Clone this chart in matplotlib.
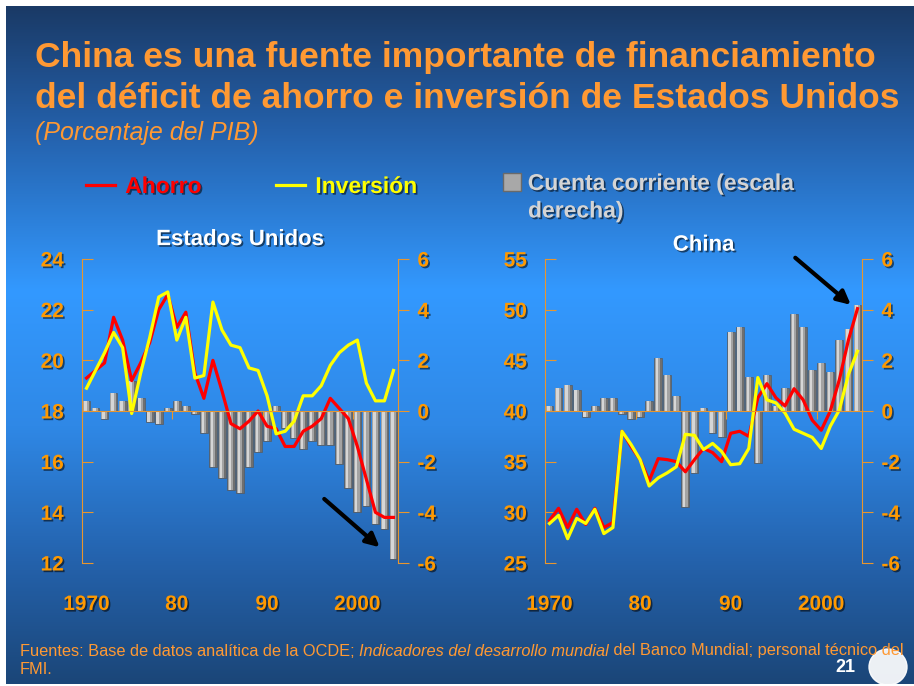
import numpy as np
import matplotlib.pyplot as plt
import matplotlib.patheffects as pe
from matplotlib.lines import Line2D
from matplotlib.patches import Ellipse
from matplotlib.colors import LinearSegmentedColormap

plt.rcParams['font.family'] = ['Liberation Sans', 'DejaVu Sans']
plt.rcParams['axes.unicode_minus'] = False

years = np.arange(1970, 2005)

# Estados Unidos (% del PIB)
us_ahorro = [19.3, 19.6, 19.9, 21.7, 20.8, 19.2, 19.9, 20.7, 22.0, 22.6,
             21.3, 21.9, 19.5, 18.5, 20.0, 18.8, 17.5, 17.3, 17.6, 18.0,
             17.4, 17.3, 16.6, 16.6, 17.2, 17.4, 17.7, 18.5, 18.1, 17.7,
             16.6, 15.3, 14.0, 13.8, 13.8]
us_inversion = [18.9, 19.6, 20.3, 21.1, 20.5, 17.9, 19.5, 20.9, 22.5, 22.7,
                20.8, 21.7, 19.3, 19.4, 22.3, 21.2, 20.6, 20.5, 19.7, 19.6,
                18.6, 17.1, 17.2, 17.6, 18.6, 18.6, 19.0, 19.8, 20.3, 20.6,
                20.8, 19.1, 18.4, 18.4, 19.6]
us_cuenta = [0.4, 0.1, -0.33, 0.7, 0.4, 1.2, 0.5, -0.42, -0.53, 0.1,
             0.4, 0.2, -0.1, -0.88, -2.23, -2.63, -3.1, -3.25, -2.23, -1.6,
             -1.2, 0.2, -0.68, -1.08, -1.5, -1.2, -1.35, -1.35, -2.1, -3.05,
             -4.0, -3.75, -4.45, -4.65, -5.85]

# China (% del PIB)
cn_ahorro = [29.2, 30.4, 28.5, 30.3, 28.8, 30.4, 28.5, 29.0, 38.0, 36.5,
             35.2, 33.1, 35.3, 35.2, 35.0, 34.0, 35.2, 36.3, 35.9, 35.0,
             37.8, 38.0, 37.5, 41.3, 42.7, 41.3, 40.5, 42.2, 41.1, 39.1,
             38.1, 40.0, 43.1, 47.0, 50.1]
cn_inversion = [28.9, 29.7, 27.4, 29.4, 28.9, 30.3, 27.9, 28.5, 38.0, 36.7,
                35.2, 32.6, 33.4, 33.9, 34.5, 37.7, 37.6, 36.2, 36.8, 36.0,
                34.7, 34.8, 36.3, 43.3, 41.1, 40.8, 39.8, 38.2, 37.8, 37.4,
                36.3, 38.5, 40.1, 43.6, 45.9]
cn_cuenta = [0.2, 0.9, 1.03, 0.83, -0.22, 0.2, 0.5, 0.5, -0.13, -0.33,
             -0.22, 0.4, 2.08, 1.42, 0.6, -3.8, -2.43, 0.1, -0.88, -1.01,
             3.1, 3.3, 1.34, -2.04, 1.41, 0.2, 0.9, 3.82, 3.3, 1.62,
             1.88, 1.54, 2.8, 3.23, 4.17]

year_ticks = [1970, 1980, 1990, 2000]
year_labels = ['1970', '80', '90', '2000']

ORANGE = '#ff9900'
SPINE = '#e8962e'
shadow = [pe.SimplePatchShadow(offset=(1.2, -1.2), shadow_rgbFace='black', alpha=0.55), pe.Normal()]

fig = plt.figure(figsize=(9.14, 6.86), dpi=100)
fig.patch.set_facecolor('white')

# slide background gradient
bg = fig.add_axes([6 / 914, 2 / 686, 1 - 6 / 914, 1 - 8 / 686], zorder=-10)
cmap = LinearSegmentedColormap.from_list('slide', [
    (0.0, '#1a3a66'), (0.18, '#2460aa'), (0.42, '#3399ff'),
    (0.62, '#2f88e6'), (0.82, '#2462ac'), (1.0, '#1b4678')])
bg.imshow(np.linspace(0, 1, 256).reshape(-1, 1), aspect='auto', cmap=cmap,
          extent=[0, 1, 0, 1], origin='upper')
bg.set_xlim(0, 1)
bg.set_ylim(0, 1)
bg.axis('off')
bg.add_patch(Ellipse((882 / 908, 17 / 678), 38 / 908, 36 / 678, color='white', alpha=0.92))


def panel(rect, ahorro, inversion, cuenta, ylim, yticks, zero, title, title_pad):
    ax = fig.add_axes(rect)
    ax2 = ax.twinx()
    ax.set_zorder(ax2.get_zorder() + 1)
    ax.patch.set_visible(False)

    # cylinder-like bars: dark body, mid band, light highlight
    ax2.bar(years, cuenta, width=0.86, color='#6f6f6f', edgecolor='#555555', linewidth=0.4)
    ax2.bar(years - 0.05, cuenta, width=0.6, color='#a3a3a3', linewidth=0)
    ax2.bar(years - 0.12, cuenta, width=0.26, color='#d6d6d6', linewidth=0)
    ax2.set_ylim(-6, 6)
    ax2.set_yticks([-6, -4, -2, 0, 2, 4, 6])

    ax.plot(years, ahorro, color='#ff0000', lw=2.3, solid_joinstyle='round')
    ax.plot(years, inversion, color='#ffff00', lw=2.3, solid_joinstyle='round')
    ax.set_ylim(*ylim)
    ax.set_yticks(yticks)
    ax.set_xlim(1969.5, 2004.5)

    for a in (ax, ax2):
        for s in a.spines.values():
            s.set_visible(False)
    ax.spines['left'].set_visible(True)
    ax.spines['left'].set_color(SPINE)
    ax2.spines['right'].set_visible(True)
    ax2.spines['right'].set_color(SPINE)
    ax.spines['bottom'].set_visible(True)
    ax.spines['bottom'].set_color(SPINE)
    ax.spines['bottom'].set_position(('data', zero))

    ax.tick_params(axis='y', direction='in', length=8, color=SPINE, pad=13,
                   labelsize=15, labelcolor=ORANGE)
    ax2.tick_params(axis='y', direction='out', length=8, color=SPINE, pad=6,
                    labelsize=15, labelcolor=ORANGE)
    ax.set_xticks([1969.5, 1979.5, 1989.5, 1999.5])
    ax.tick_params(axis='x', direction='out', length=6, color=SPINE, labelbottom=False)

    sec = ax.secondary_xaxis('bottom')
    sec.set_xticks(year_ticks, year_labels)
    sec.tick_params(length=0, pad=23, labelsize=15, labelcolor=ORANGE)
    for s in sec.spines.values():
        s.set_visible(False)

    for lab in (ax.get_yticklabels() + ax2.get_yticklabels() + sec.get_xticklabels()):
        lab.set_fontweight('bold')
        lab.set_path_effects(shadow)

    t = ax.set_title(title, color='white', fontsize=16, fontweight='bold', pad=title_pad)
    t.set_path_effects(shadow)
    return ax


ax_us = panel([82 / 914, 123 / 686, 316 / 914, 304 / 686], us_ahorro, us_inversion, us_cuenta,
              (12, 24), [12, 14, 16, 18, 20, 22, 24], 18, 'Estados Unidos', 10)
ax_cn = panel([545 / 914, 123 / 686, 317 / 914, 304 / 686], cn_ahorro, cn_inversion, cn_cuenta,
              (25, 55), [25, 30, 35, 40, 45, 50, 55], 40, 'China', 6)

arrow = dict(arrowstyle='-|>,head_length=0.8,head_width=0.4', color='black', lw=3)
ax_us.annotate('', xy=(2002.7, 12.55), xytext=(1996.1, 14.6), arrowprops=arrow,
               annotation_clip=False)
ax_cn.annotate('', xy=(2003.5, 50.3), xytext=(1996.9, 55.3), arrowprops=arrow,
               annotation_clip=False)

# title block
fig.text(35 / 914, 1 - 57 / 686, 'China es una fuente importante de financiamiento',
         color='#ff9933', fontsize=25.5, fontweight='bold', va='center', ha='left')
fig.text(35 / 914, 1 - 99 / 686, 'del déficit de ahorro e inversión de Estados Unidos',
         color='#ff9933', fontsize=25.5, fontweight='bold', va='center', ha='left')
fig.text(35 / 914, 1 - 133 / 686, '(Porcentaje del PIB)', color='#ff9933',
         fontsize=18, fontstyle='italic', va='center', ha='left')

# legend
h_line = [Line2D([], [], color='#ff0000', lw=2.3), Line2D([], [], color='#ffff00', lw=2.3)]
leg1 = fig.legend(h_line, ['Ahorro', 'Inversión'], ncol=2, frameon=False,
                  loc='upper left', bbox_to_anchor=(86 / 914, 1 - 175 / 686),
                  borderaxespad=0, borderpad=0,
                  handlelength=1.27, handletextpad=0.44, columnspacing=3.27,
                  labelcolor=['#ff0000', '#ffff00'],
                  prop={'size': 16.5, 'weight': 'bold'})
for t in leg1.get_texts():
    t.set_path_effects(shadow)
h_bar = [Line2D([], [], linestyle='none', marker='s', markersize=12.5,
                markerfacecolor='#a8a8a8', markeredgecolor='#6a6a6a')]
leg2 = fig.legend(h_bar, ['Cuenta corriente (escala'], frameon=False,
                  loc='upper left', bbox_to_anchor=(503 / 914, 1 - 172 / 686),
                  borderaxespad=0, borderpad=0,
                  handlelength=0.8, handletextpad=0.28, labelcolor='#d4d4d4',
                  prop={'size': 16.5, 'weight': 'bold'})
for t in leg2.get_texts():
    t.set_path_effects(shadow)
fig.text(528 / 914, 1 - 211 / 686, 'derecha)', color='#d4d4d4', fontsize=16.5,
         fontweight='bold', va='center', ha='left', path_effects=shadow)

# footer
f1 = fig.text(20 / 914, 1 - 651 / 686, 'Fuentes: Base de datos analítica de la OCDE; ',
              color='#ff9933', fontsize=11.8, va='center', ha='left')
f2 = fig.text(0, 0, 'Indicadores del desarrollo mundial', color='#ff9933',
              fontsize=11.8, fontstyle='italic', va='bottom', ha='left')
fig.canvas.draw()
bb = f1.get_window_extent()
f2.set_transform(None)
f2.set_position((bb.x1, bb.y0))
fig.canvas.draw()
bb2 = f2.get_window_extent()
f3 = fig.text(0, 0, ' del Banco Mundial; personal técnico del', color='#ff9933',
              fontsize=11.8, va='bottom', ha='left', transform=None)
f3.set_position((bb2.x1, bb.y0))
fig.text(20 / 914, 1 - 670 / 686, 'FMI.', color='#ff9933', fontsize=11.8, va='center', ha='left')
fig.text(845 / 914, 1 - 668 / 686, '21', color='white', fontsize=13, fontweight='bold',
         va='center', ha='center')

fig.savefig('out.png', dpi=100)
